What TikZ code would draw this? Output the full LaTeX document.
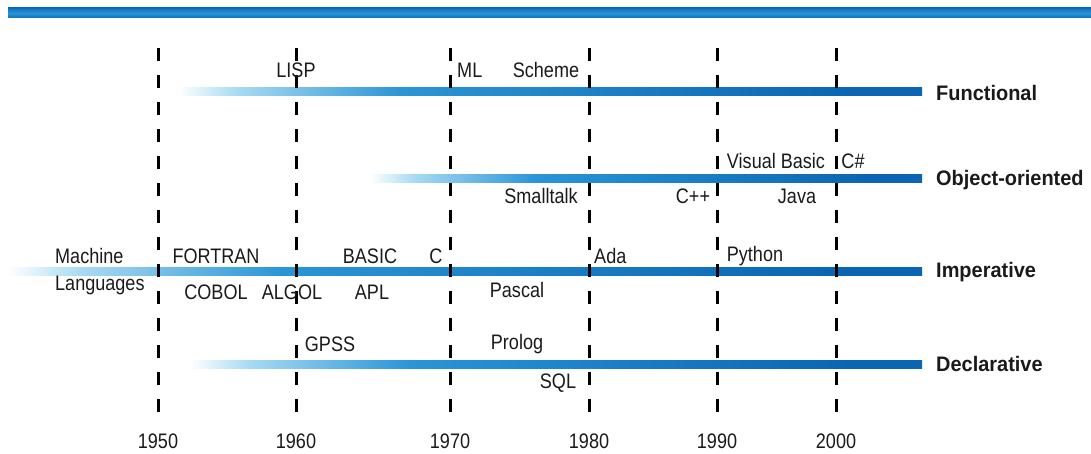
\documentclass[tikz,border=0pt]{standalone}
\usepackage{fontspec}
\setmainfont{Liberation Sans}
\newfontfamily\condfont[FakeStretch=0.86]{Liberation Sans}
\newfontfamily\condbold[FakeStretch=0.95]{Liberation Sans Bold}
\definecolor{topblue}{HTML}{0B6FBA}
\definecolor{lightblue}{HTML}{A8DAF2}
\definecolor{midblue}{HTML}{2A95D6}
\definecolor{darkblue}{HTML}{0A66B2}
\definecolor{txt}{HTML}{1A1A1A}
\pgfdeclarehorizontalshading{barshade}{100bp}{color(0bp)=(white); color(25bp)=(white); color(29bp)=(lightblue); color(40bp)=(midblue); color(70bp)=(darkblue); color(100bp)=(darkblue)}
\tikzset{
  lbl/.style={inner sep=0pt, text=txt, font=\fontsize{21}{23}\condfont},
  cat/.style={inner sep=0pt, anchor=west, text=txt, font=\fontsize{21}{23}\condbold},
  yr/.style={inner sep=0pt, text=txt, font=\fontsize{21}{23}\condfont},
  grid/.style={line width=3pt, dash pattern=on 13pt off 14pt, black},
  bar/.style={shading=barshade}
}
\begin{document}
\begin{tikzpicture}[x=1pt,y=-1pt]
\useasboundingbox (0,0) rectangle (1091,454);
% top bar
\shade[top color=topblue, bottom color=topblue, middle color=midblue] (8,8) rectangle (1091,18);
% bars
\shade[bar] (178,88) rectangle (922,96);
\shade[bar] (370,175) rectangle (922,183);
\shade[bar] (8,267) rectangle (922,275);
\shade[bar] (190,360) rectangle (922,368);
% dashed year lines
\foreach \n/\x in {a/158,b/296,c/450,d/589,e/717,f/836}{
  \coordinate (t\n) at (\x,48);
  \coordinate (b\n) at (\x,426);
  \draw[grid] (t\n) -- (b\n);
}
% years
\node[yr] (y1950) at (158,441) {1950};
\node[yr] (y1960) at (296,441) {1960};
\node[yr] (y1970) at (450,441) {1970};
\node[yr] (y1980) at (589,441) {1980};
\node[yr] (y1990) at (717,441) {1990};
\node[yr] (y2000) at (836,441) {2000};
% functional
\node[lbl] (lisp) at (296,70) {LISP};
\node[lbl, anchor=west] (ml) at (457,70) {ML};
\node[lbl] (scheme) at (546,70) {Scheme};
% object oriented
\node[lbl] (vb) at (776,161) {Visual Basic};
\node[lbl] (cs) at (853,161) {C\#};
\node[lbl] (smalltalk) at (541,196) {Smalltalk};
\node[lbl] (cpp) at (693,196) {C++};
\node[lbl] (java) at (797,196) {Java};
% imperative
\node[lbl, anchor=west] (machine) at (55,256) {Machine};
\node[lbl, anchor=west] (languages) at (55,285) {Languages};
\node[lbl] (fortran) at (216,256) {FORTRAN};
\node[lbl] (basic) at (370,256) {BASIC};
\node[lbl] (clang) at (436,256) {C};
\node[lbl, anchor=west] (ada) at (594,256) {Ada};
\node[lbl] (python) at (755,256) {Python};
\node[lbl] (cobol) at (216,292) {COBOL};
\node[lbl] (algol) at (292,292) {ALGOL};
\node[lbl] (apl) at (372,292) {APL};
\node[lbl] (pascal) at (517,290) {Pascal};
% declarative
\node[lbl] (gpss) at (330,344) {GPSS};
\node[lbl] (prolog) at (517,344) {Prolog};
\node[lbl] (sql) at (558,383) {SQL};
% categories
\node[cat] (functional) at (936,93) {Functional};
\node[cat] (oo) at (936,180) {Object-oriented};
\node[cat] (imperative) at (936,272) {Imperative};
\node[cat] (declarative) at (936,364) {Declarative};
\end{tikzpicture}
\end{document}
